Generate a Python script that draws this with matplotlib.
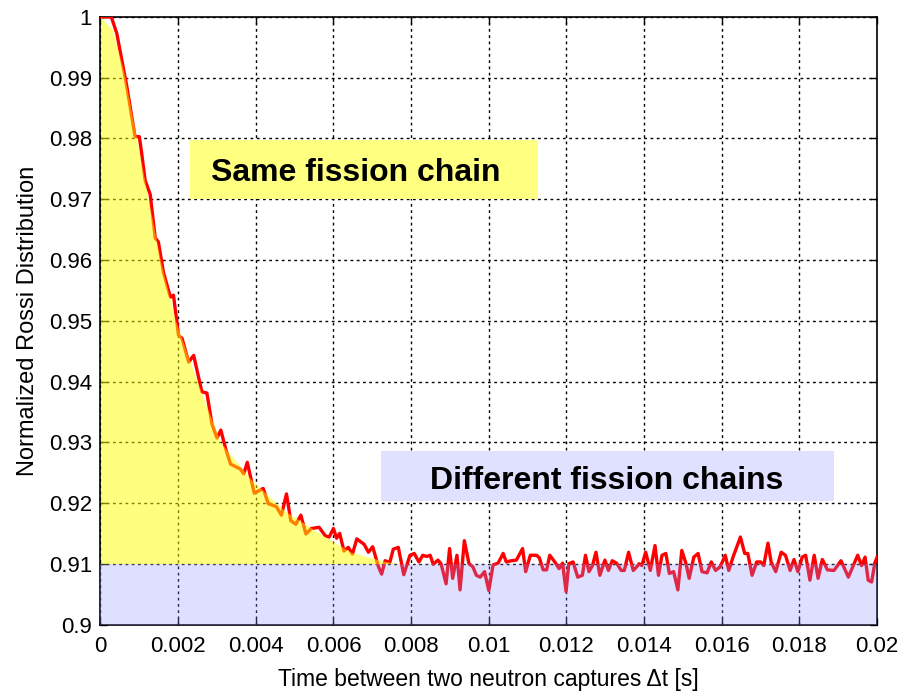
import numpy as np
import matplotlib
matplotlib.use('Agg')
import matplotlib.pyplot as plt
from matplotlib.patches import Rectangle
from matplotlib.ticker import FormatStrFormatter

plt.rcParams['font.family'] = ['Liberation Sans', 'DejaVu Sans']

# Rossi-alpha histogram, time in ms
t_ms = [0.00, 0.28, 0.42, 0.55, 0.68, 0.85, 0.89, 1.00, 1.06, 1.15, 1.28, 1.41, 1.49, 1.62,
        1.80, 1.88, 2.01, 2.10, 2.27, 2.40, 2.61, 2.74, 2.87, 3.00, 3.10, 3.22, 3.35, 3.60,
        3.69, 3.78, 3.96, 4.19, 4.32, 4.53, 4.66, 4.79, 4.90, 5.03, 5.16, 5.29, 5.43, 5.63,
        5.79, 5.89, 6.00, 6.08, 6.16, 6.27, 6.38, 6.49, 6.60, 6.79, 6.90, 7.01, 7.16, 7.24,
        7.33, 7.45, 7.54, 7.67, 7.81, 7.97, 8.08, 8.20, 8.30, 8.40, 8.49, 8.57, 8.69, 8.77,
        8.90, 8.99, 9.07, 9.18, 9.26, 9.37, 9.49, 9.59, 9.68, 9.78, 9.89, 10.00, 10.11, 10.24,
        10.37, 10.45, 10.58, 10.71, 10.87, 10.95, 11.07, 11.23, 11.30, 11.40, 11.49, 11.57,
        11.70, 11.81, 11.90, 11.99, 12.06, 12.17, 12.29, 12.41, 12.49, 12.58, 12.67, 12.76,
        12.86, 12.99, 13.08, 13.18, 13.29, 13.41, 13.49, 13.60, 13.72, 13.81, 13.87, 13.94,
        14.04, 14.16, 14.28, 14.37, 14.46, 14.56, 14.65, 14.76, 14.87, 14.97, 15.08, 15.16,
        15.28, 15.39, 15.49, 15.62, 15.73, 15.84, 15.96, 16.09, 16.18, 16.29, 16.48, 16.59,
        16.67, 16.78, 16.90, 17.00, 17.08, 17.19, 17.27, 17.39, 17.53, 17.64, 17.76, 17.86,
        17.96, 18.07, 18.16, 18.27, 18.38, 18.48, 18.59, 18.72, 18.89, 19.07, 19.26, 19.50,
        19.60, 19.69, 19.77, 19.86, 19.94, 20.00]
rossi = [1.0000, 1.0000, 0.9973, 0.9929, 0.9885, 0.9819, 0.9803, 0.9803, 0.9776, 0.9731,
         0.9708, 0.9636, 0.9630, 0.9580, 0.9539, 0.9542, 0.9476, 0.9471, 0.9432, 0.9443,
         0.9383, 0.9381, 0.9330, 0.9307, 0.9320, 0.9290, 0.9264, 0.9256, 0.9248, 0.9267,
         0.9216, 0.9224, 0.9199, 0.9194, 0.9180, 0.9215, 0.9171, 0.9165, 0.9180, 0.9149,
         0.9158, 0.9160, 0.9146, 0.9144, 0.9158, 0.9142, 0.9150, 0.9121, 0.9127, 0.9116,
         0.9141, 0.9132, 0.9119, 0.9128, 0.9095, 0.9083, 0.9105, 0.9102, 0.9124, 0.9127,
         0.9082, 0.9114, 0.9117, 0.9103, 0.9114, 0.9112, 0.9114, 0.9099, 0.9106, 0.9100,
         0.9067, 0.9125, 0.9076, 0.9114, 0.9057, 0.9138, 0.9100, 0.9095, 0.9081, 0.9078,
         0.9087, 0.9056, 0.9098, 0.9101, 0.9117, 0.9103, 0.9105, 0.9106, 0.9125, 0.9087,
         0.9114, 0.9114, 0.9110, 0.9090, 0.9090, 0.9114, 0.9103, 0.9092, 0.9101, 0.9054,
         0.9100, 0.9103, 0.9078, 0.9081, 0.9114, 0.9087, 0.9097, 0.9119, 0.9081, 0.9106,
         0.9089, 0.9105, 0.9101, 0.9089, 0.9089, 0.9119, 0.9089, 0.9095, 0.9100, 0.9097,
         0.9119, 0.9089, 0.9130, 0.9081, 0.9114, 0.9117, 0.9084, 0.9087, 0.9057, 0.9122,
         0.9100, 0.9076, 0.9111, 0.9117, 0.9087, 0.9085, 0.9103, 0.9089, 0.9095, 0.9114,
         0.9089, 0.9111, 0.9144, 0.9117, 0.9117, 0.9081, 0.9103, 0.9103, 0.9097, 0.9134,
         0.9103, 0.9087, 0.9119, 0.9114, 0.9089, 0.9107, 0.9087, 0.9111, 0.9114, 0.9073,
         0.9114, 0.9076, 0.9107, 0.9090, 0.9089, 0.9105, 0.9078, 0.9114, 0.9097, 0.9111,
         0.9073, 0.9070, 0.9101, 0.9111]

# smooth decay (correlated part) and accidental level
fit_t_ms = [0.0, 0.3, 0.6, 0.9, 1.2, 1.54, 1.93, 2.49, 3.09, 3.86, 4.73, 5.59, 6.45, 7.31, 7.7]
fit_val = [1.0, 0.998, 0.991, 0.981, 0.971, 0.960, 0.950, 0.940, 0.930, 0.924, 0.9188,
           0.9152, 0.9119, 0.9104, 0.910]
accidentals = 0.91

xticks = [0, 0.002, 0.004, 0.006, 0.008, 0.01, 0.012, 0.014, 0.016, 0.018, 0.02]
yticks = [0.9, 0.91, 0.92, 0.93, 0.94, 0.95, 0.96, 0.97, 0.98, 0.99, 1.0]

t = np.array(t_ms) * 1e-3
fit_t = np.array(fit_t_ms) * 1e-3

fig = plt.figure(figsize=(9.02, 6.96), dpi=100)
ax = fig.add_axes([0.1114, 0.1027, 0.861, 0.8729])

ax.plot(t, rossi, color='#ff0000', lw=2.4, zorder=3)

# shaded regions sit on top of the curve (semi-transparent)
ax.fill_between(fit_t, accidentals, fit_val, color='#ffff00', alpha=0.5, lw=0, zorder=5)
ax.fill_between([0, 0.02], 0.9, accidentals, color='#8f8fff', alpha=0.28, lw=0, zorder=5)

ax.set_xlim(0, 0.02)
ax.set_ylim(0.9, 1.0)
ax.set_xticks(xticks)
ax.set_yticks(yticks)
ax.xaxis.set_major_formatter(FormatStrFormatter('%g'))
ax.yaxis.set_major_formatter(FormatStrFormatter('%g'))
ax.tick_params(direction='in', top=True, right=True, length=5, width=1, labelsize=16)
ax.tick_params(axis='x', pad=8)
ax.tick_params(axis='y', pad=6)
ax.grid(True, color='black', linestyle=(0, (2, 2.5)), linewidth=1)
ax.set_axisbelow(True)
for sp in ax.spines.values():
    sp.set_linewidth(1.2)
    sp.set_zorder(2.5)

ax.set_xlabel('Time between two neutron captures \u0394t [s]', fontsize=16.5, labelpad=8)
ax.set_ylabel('Normalized Rossi Distribution', fontsize=17, labelpad=7)

# labels for the two regions
ax.add_patch(Rectangle((0.0023, 0.9700), 0.00898, 0.00974, facecolor='#ffff80',
                       edgecolor='none', zorder=6))
ax.text(0.00658, 0.9743, 'Same fission chain', fontsize=23, fontweight='bold',
        ha='center', va='center', zorder=7)
ax.add_patch(Rectangle((0.00722, 0.9204), 0.01168, 0.0081, facecolor='#e0e0ff',
                       edgecolor='none', zorder=6))
ax.text(0.01303, 0.9237, 'Different fission chains', fontsize=23, fontweight='bold',
        ha='center', va='center', zorder=7)

fig.savefig('out.png', dpi=100)
